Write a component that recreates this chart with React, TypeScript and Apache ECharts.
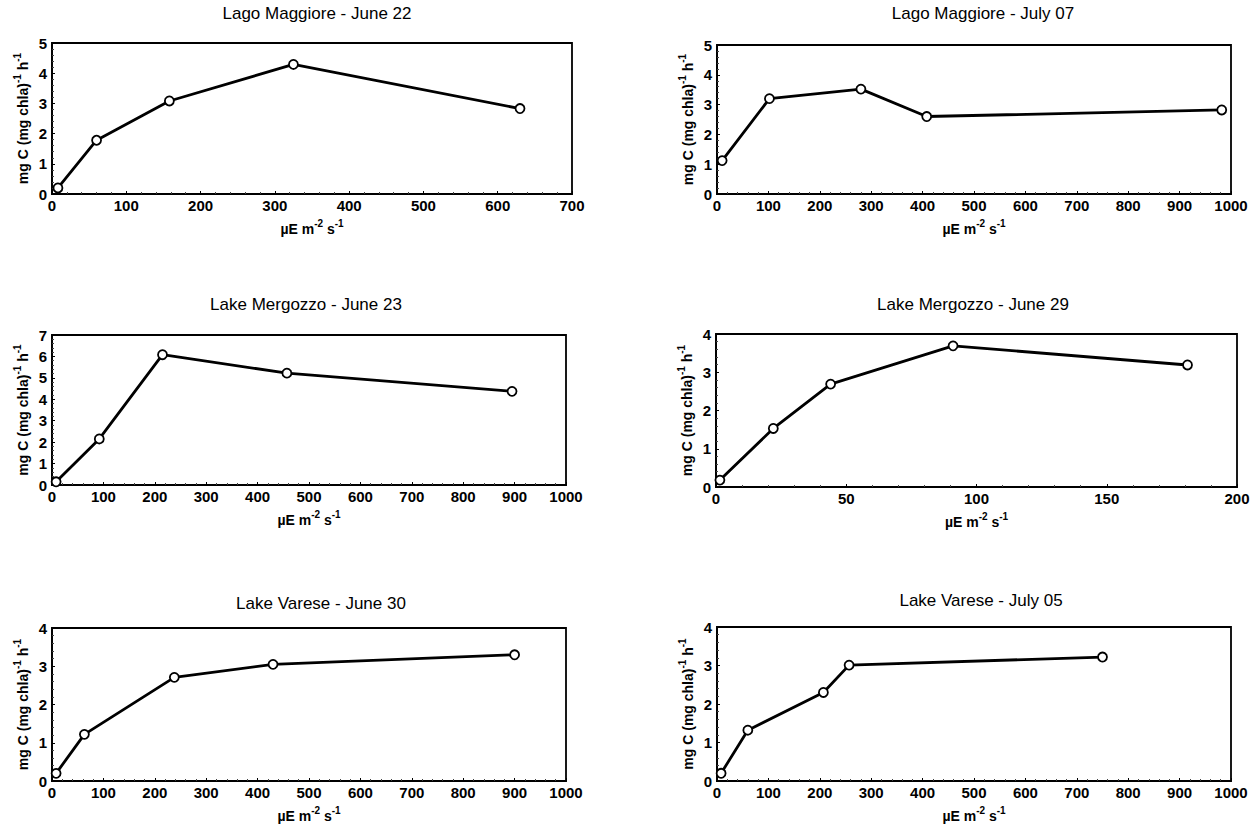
import React, { useEffect, useRef } from "react";
import * as echarts from "echarts";

// ---- data ----
const titles = [
  "Lago Maggiore - June 22",
  "Lago Maggiore - July 07",
  "Lake Mergozzo - June 23",
  "Lake Mergozzo - June 29",
  "Lake Varese - June 30",
  "Lake Varese - July 05",
];

const maggioreJune22: [number, number][] = [[8, 0.2], [60, 1.78], [158, 3.08], [325, 4.29], [630, 2.83]];
const maggioreJuly07: [number, number][] = [[10, 1.12], [102, 3.2], [280, 3.52], [408, 2.6], [982, 2.82]];
const mergozzoJune23: [number, number][] = [[8, 0.15], [92, 2.15], [215, 6.08], [457, 5.22], [895, 4.37]];
const mergozzoJune29: [number, number][] = [[1.5, 0.18], [22, 1.53], [44, 2.69], [91, 3.69], [181, 3.19]];
const vareseJune30: [number, number][] = [[8, 0.2], [63, 1.22], [238, 2.71], [430, 3.05], [900, 3.3]];
const vareseJuly05: [number, number][] = [[8, 0.2], [60, 1.32], [207, 2.3], [257, 3.01], [750, 3.22]];

const seriesData = [maggioreJune22, maggioreJuly07, mergozzoJune23, mergozzoJune29, vareseJune30, vareseJuly05];

const xMax = [700, 1000, 1000, 200, 1000, 1000];
const xInterval = [100, 100, 100, 50, 100, 100];
const yMax = [5, 5, 7, 4, 4, 4];

// ---- layout ----
const grids = [
  { left: 52, top: 43, width: 520, height: 151 },
  { left: 717, top: 45, width: 514, height: 149 },
  { left: 52, top: 335, width: 514, height: 150 },
  { left: 716, top: 334, width: 521, height: 153 },
  { left: 52, top: 628, width: 514, height: 153 },
  { left: 717, top: 627, width: 514, height: 154 },
];
const titlePos = [
  { x: 312, y: 0 },
  { x: 978, y: 0 },
  { x: 301, y: 291 },
  { x: 968, y: 291 },
  { x: 316, y: 590 },
  { x: 976, y: 587 },
];

const FONT = "'Liberation Sans', Arial, sans-serif";

const xName = "{a|µE m}{s|-2}{a| s}{s|-1}";
const yName = "{a|mg C (mg chla)}{s|-1}{a| h}{s|-1}";
const richName = {
  a: { fontSize: 14, fontWeight: "bold", fontFamily: FONT, color: "#000", lineHeight: 18, verticalAlign: "bottom" },
  s: { fontSize: 10, fontWeight: "bold", fontFamily: FONT, color: "#000", lineHeight: 10, verticalAlign: "top" },
};

export default function App() {
  const ref = useRef<HTMLDivElement>(null);
  useEffect(() => {
    if (!ref.current) return;
    const chart = echarts.init(ref.current, null, { renderer: "svg" });
    const axisLabel = {
      fontSize: 15,
      fontWeight: "bold",
      fontFamily: FONT,
      color: "#000",
      margin: 4,
      formatter: (v: number) => String(v),
    };
    const option: any = {
      animation: false,
      backgroundColor: "#fff",
      title: titles.map((t, i) => ({
        text: t,
        left: titlePos[i].x,
        top: titlePos[i].y,
        textAlign: "center",
        textStyle: { fontSize: 17, fontWeight: "normal", fontFamily: FONT, color: "#000" },
      })),
      grid: grids.map((g) => ({ ...g, show: true, borderColor: "#000", borderWidth: 1.8, backgroundColor: "transparent" })),
      xAxis: grids.map((_, i) => ({
        type: "value",
        gridIndex: i,
        min: 0,
        max: xMax[i],
        interval: xInterval[i],
        name: xName,
        nameLocation: "middle",
        nameGap: 24,
        nameTextStyle: { rich: richName },
        axisLine: { show: true, onZero: false, lineStyle: { color: "#000", width: 1.8 } },
        axisTick: { show: true, inside: true, length: 3, lineStyle: { color: "#000" } },
        minorTick: { show: true, splitNumber: 5, length: 2, lineStyle: { color: "#444" } },
        splitLine: { show: false },
        axisLabel,
      })),
      yAxis: grids.map((_, i) => ({
        type: "value",
        gridIndex: i,
        min: 0,
        max: yMax[i],
        interval: 1,
        name: yName,
        nameLocation: "middle",
        nameGap: 22,
        nameTextStyle: { rich: richName },
        axisLine: { show: true, onZero: false, lineStyle: { color: "#000", width: 1.8 } },
        axisTick: { show: true, inside: true, length: 3, lineStyle: { color: "#000" } },
        minorTick: { show: true, splitNumber: 5, length: 2, lineStyle: { color: "#444" } },
        splitLine: { show: false },
        axisLabel: { ...axisLabel, margin: 5 },
      })),
      series: seriesData.map((d, i) => ({
        type: "line",
        xAxisIndex: i,
        yAxisIndex: i,
        data: d,
        symbol: "circle",
        symbolSize: 9,
        showAllSymbol: true,
        lineStyle: { color: "#000", width: 2.8 },
        itemStyle: { color: "#fff", borderColor: "#000", borderWidth: 1.8 },
        z: 3,
      })),
    };
    chart.setOption(option);
    return () => chart.dispose();
  }, []);
  return (
    <div
      ref={ref}
      style={{ position: "fixed", left: 0, top: 0, width: 1255, height: 832, background: "#fff" }}
    />
  );
}
